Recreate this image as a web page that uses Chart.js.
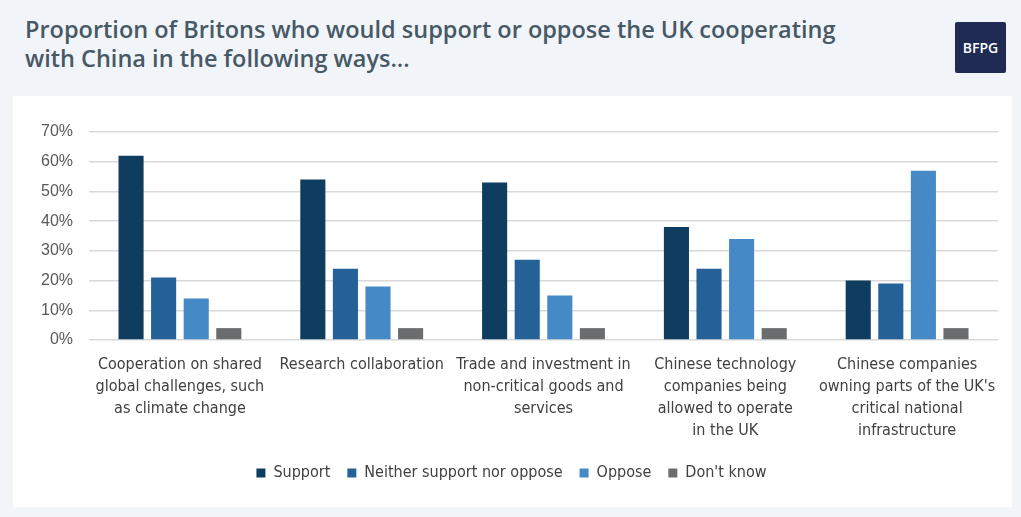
<!DOCTYPE html>
<html>
<head>
<meta charset="utf-8">
<script src="https://cdn.jsdelivr.net/npm/chart.js@4.4.1/dist/chart.umd.min.js"></script>
<style>
  html, body { margin: 0; padding: 0; }
  body { width: 1021px; height: 517px; background: #f1f4f8; position: relative; font-family: "Open Sans", sans-serif; overflow: hidden; }
  .title { position: absolute; left: 25px; top: 15px; font-size: 23.5px; line-height: 29px; font-weight: 600; color: #475866; }
  .logo { position: absolute; left: 955px; top: 22px; width: 51px; height: 51px; background: #1f2b52; color: #fff; font-size: 14px; font-weight: 600; display: flex; align-items: center; justify-content: center; border-radius: 2px; }
  .panel { position: absolute; left: 13px; top: 96px; width: 999px; height: 411px; background: #fff; }
</style>
</head>
<body>
<div class="title">Proportion of Britons who would support or oppose the UK cooperating<br>with China in the following ways...</div>
<div class="logo">BFPG</div>
<div class="panel"><canvas id="barChart" width="999" height="411"></canvas></div>
<script>
// DATA
const categories = [
    ["Cooperation on shared", "global challenges, such", "as climate change"],
    ["Research collaboration"],
    ["Trade and investment in", "non-critical goods and", "services"],
    ["Chinese technology", "companies being", "allowed to operate", "in the UK"],
    ["Chinese companies", "owning parts of the UK's", "critical national", "infrastructure"]
];
const support = [62, 54, 53, 38, 20];
const neither = [21, 24, 27, 24, 19];
const oppose = [14, 18, 15, 34, 57];
const dontKnow = [4, 4, 4, 4, 4];
const seriesNames = ["Support", "Neither support nor oppose", "Oppose", "Don't know"];
const seriesColors = ['#0e3d5f', '#246196', '#4589c6', '#6a6c6e'];

const narrow = '"DejaVu Sans Condensed", "Liberation Sans Narrow", sans-serif';

var ctx = document.getElementById('barChart').getContext('2d');
var myBarChart = new Chart(ctx, {
    type: 'bar',
    data: {
        labels: categories,
        datasets: [support, neither, oppose, dontKnow].map((vals, i) => ({
            label: seriesNames[i],
            data: vals,
            backgroundColor: seriesColors[i],
            borderWidth: 0,
            categoryPercentage: 0.717,
            barPercentage: 0.77
        }))
    },
    options: {
        responsive: false,
        animation: false,
        layout: { padding: { left: 12, right: 14, top: 36, bottom: 16 } },
        plugins: {
            legend: {
                position: 'bottom',
                labels: {
                    boxWidth: 9,
                    boxHeight: 9,
                    padding: 17,
                    color: '#404040',
                    font: { family: narrow, size: 16 }
                }
            },
            tooltip: { enabled: false }
        },
        scales: {
            x: {
                grid: { display: false },
                border: { display: false },
                ticks: {
                    maxRotation: 0,
                    color: '#404040',
                    padding: 6,
                    font: { family: narrow, size: 16, lineHeight: 1.375 }
                }
            },
            y: {
                min: 0,
                max: 70,
                border: { display: false },
                grid: { color: '#d9d9d9', lineWidth: 1.5, drawTicks: false },
                ticks: {
                    stepSize: 10,
                    padding: 16,
                    color: '#595959',
                    font: { family: '"Liberation Sans", Arial, sans-serif', size: 16 },
                    callback: v => v + '%'
                }
            }
        }
    }
});
</script>
</body>
</html>
